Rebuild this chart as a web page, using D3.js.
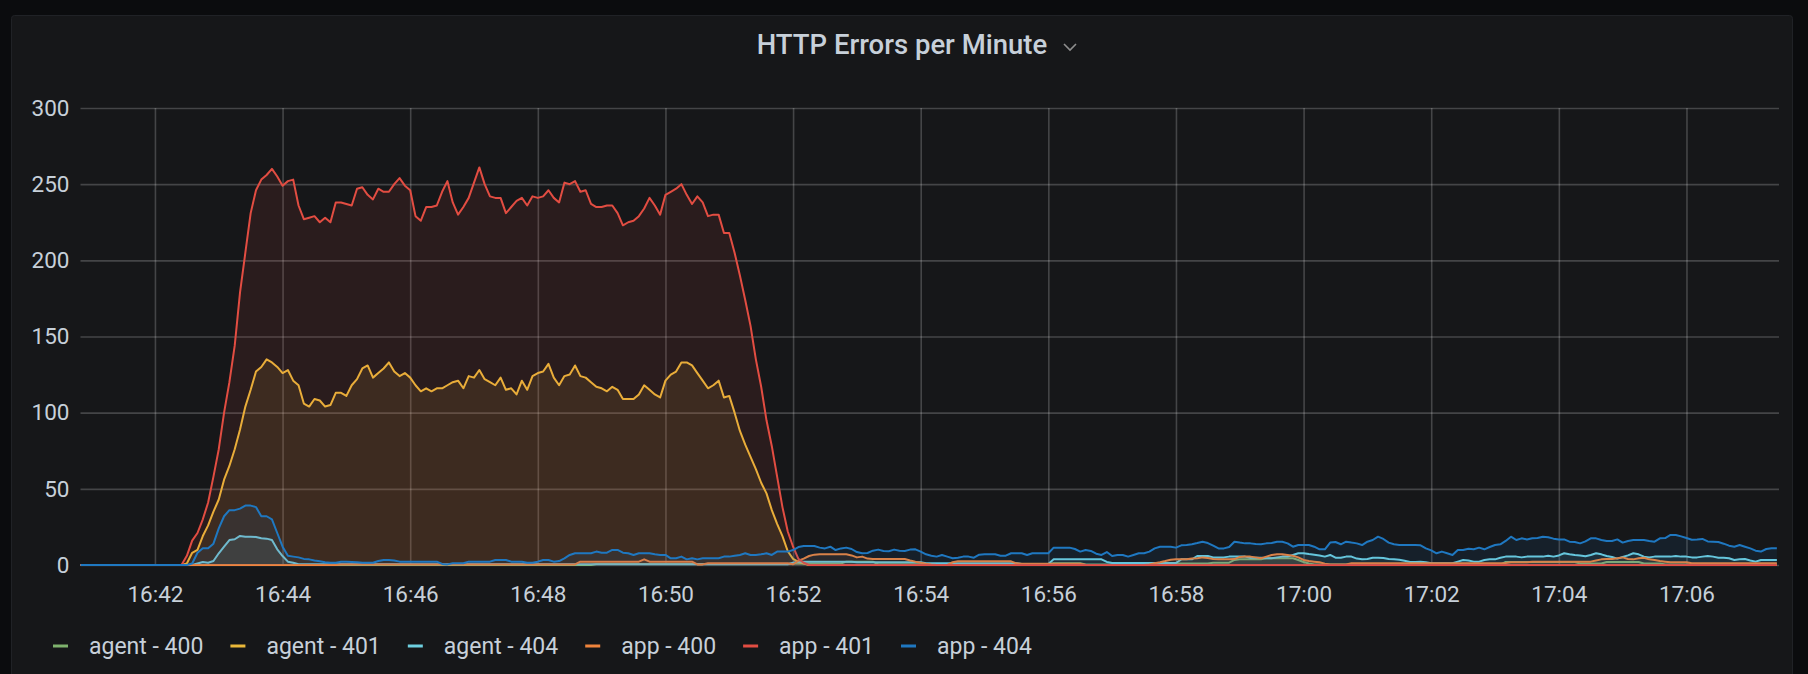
<!DOCTYPE html>
<html>
<head>
<meta charset="utf-8">
<script src="https://cdn.jsdelivr.net/npm/d3@7"></script>
<style>
  html, body { margin: 0; padding: 0; background: #0b0c0e; }
  svg { display: block; }
  text { font-family: Roboto, "Noto Sans", sans-serif; }
</style>
</head>
<body>
<svg id="chart" width="1808" height="674"></svg>
<script>
// ---------- data ----------
const title = "HTTP Errors per Minute";
const seriesNames = ["agent - 400", "agent - 401", "agent - 404", "app - 400", "app - 401", "app - 404"];
const seriesColors = ["#7EB26D", "#EAB839", "#6ED0E0", "#EF843C", "#E24D42", "#1F78C1"];
const startTime = "16:40:50";   // first sample
const stepSeconds = 5;          // sample spacing
const endTime = "17:07:27";     // right edge of the time axis
const xTickLabels = ["16:42","16:44","16:46","16:48","16:50","16:52","16:54","16:56","16:58","17:00","17:02","17:04","17:06"];
const yTickValues = [0, 50, 100, 150, 200, 250, 300];

const agent400 = [
0,0,0,0,0,0,0,0,0,0,0,0,0,0,0,0,0,0,0,0,
0,0,0,0,0,0,0,0,0,0,0,0,0,0,0,0,0,0,0,0,
0,0,0,0,0,0,0,0,0,0,0,0,0,0,0,0,0,0,0,0,
0,0,0,0,0,0,0,0,0,0,0,0,0,0,0,0,0,0,0,0,
0,0,0,0,0,0,0,0,0,0,0,0,0,0,0,0,0,0.7,0.7,0.7,
0.7,0.7,0.7,0.7,0.7,0.7,0.7,0.7,0.7,0.7,0.7,0.7,0.7,0.7,0.7,0.7,0.7,0.7,0.7,0.7,
0.7,0.7,0.7,0.7,0.7,0.7,0.7,0.7,0.7,0.7,0.7,0.7,0.7,0.7,1,1,1,1,1,1,
1,1,1,1,2.2,2.2,2.2,2.2,2.2,2.2,0.5,0.5,0.5,0.5,0.5,0.5,0.5,0.5,0.5,0.5,
0.5,0.5,0.5,0.5,0.5,0.5,0.5,0.5,0.5,0.5,0.5,0.5,0.5,0.5,0.5,0.5,0.5,0.5,0.5,0.5,
0.5,0.5,0.5,1.1,1.1,1.1,1.1,1.1,1.1,0.3,0.3,0.3,0.3,0.3,0.3,0.3,0.3,0.3,0.3,0.3,
0.3,0.3,0.3,0.3,0.3,0.3,1,1,1,1,1,1,1,1.5,1.5,1.5,1.5,3.3,3.7,3.7,
3.7,3.7,3.7,4.4,4.4,4.4,4.4,4.4,4.4,3.3,2,1,0.3,0.3,0.3,0.3,0.3,0.3,0.3,0.3,
0.3,0.3,0.3,0.3,0.3,0.3,0.3,0.3,0.3,0.3,0.3,0.3,0.3,0.3,0.3,0.3,0.3,0.3,0.3,0.3,
0.3,0.3,0.3,0.3,0.3,0.3,0.3,0.3,2,2,2,2,2,2,2,2,2,2,2,2,
2,2,1,1,1,1,1,2,2,2,2,2,2,2,1,1,1,1,0.3,0.3,
0.3,0.3,0.3,0.3,0.3,0.3,0.3,0.3,0.3,0.3,0.3,0.3,0.3,0.3,0.3,0.3,0.3,0.3,0.3,0.3
];

const agent401 = [
0,0,0,0,0,0,0,0,0,0,0,0,0,0,0,0,0,0,0,0,
1,8,10,19,26,35,43,56,65,76,89,104,115,127,130,135,133,130,126,128,
121,118,106,104,109,108,104,105,113,113,111,118,122,129,131,123,126,129,133,127,
124,126,123,118,114,116,114,116,116,118,120,121,116,124,123,128,122,120,118,123,
115,116,112,121,115,124,126,127,132,123,118,124,125,131,124,123,120,117,116,114,
117,115,109,109,109,112,118,115,112,110,121,125,127,133,133,131,126,121,116,118,
121,110,111,100,88,79,71,63,54,47,36,27,19,9,4,2,1,0,0,0,
0,0,0,0,0,0,0,0,0,0,0,0,0,0,0,0,0,0,0,0,
0,0,0,0,0,0,0,0,0,0,0,0,0,0,0,0,0,0,0,0,
0,0,0,0,0,0,0,0,0,0,0,0,0,0,0,0,0,0,0,0,
0,0,0,0,0,0,0,0,0,0,0,0,0,0,0,0,0,0,0,0,
0,0,0,0,0,0,0,0,0,0,0,0,0,0,0,0,0,0,0,0,
0,0,0,0,0,0,0,0,0,0,0,0,0,0,0,0,0,0,0,0,
0,0,0,0,0,0,0,0,0,0,0,0,0,0,0,0,0,0,0,0,
0,0,0,0,0,0,0,0,0,0,0,0,0,0,0,0,0,0,0,0,
0,0,0,0,0,0,0,0,0,0,0,0,0,0,0,0,0,0,0,0
];

const agent404 = [
0,0,0,0,0,0,0,0,0,0,0,0,0,0,0,0,0,0,0,0,
0,0,1,2,1.5,2.6,7.7,12,16.4,16.9,19.1,18.6,18.6,18.4,17.5,17.3,16.4,10.3,5.9,2.2,
1.5,0.5,0.5,0.5,0.5,0.5,0.5,0.5,0.5,0.5,0.5,0.5,0.5,0.5,0.5,0.5,0.5,0.5,0.5,0.5,
0.5,0.5,0.5,0.5,0.5,0.5,0.5,0.5,0.5,0.5,0.5,0.5,0.5,0.5,0.5,0.5,0.5,0.5,0.5,0.5,
0.5,0.5,0.5,0.5,0.5,0.5,0.5,0.5,0.5,0.5,0.5,0.5,0.5,0.5,0.5,0.5,0.5,0.5,0.5,0.5,
0.5,0.5,0.5,0.5,0.5,0.5,0.5,0.5,0.5,0.5,0.5,0.5,0.5,0.5,0.5,0.5,0.5,0.5,0.5,0.5,
0.5,0.5,0.5,0.5,0.5,0.5,0.5,0.5,0.5,0.5,0.5,0.5,0.5,0.5,1.5,2.2,2.2,2.2,2.2,2.2,
2.2,2.2,2.2,2.2,2.2,2.2,1.8,1.8,1.8,1.8,1.8,1.8,1.8,1.8,1.8,1.8,1.8,1.8,1.8,1.1,
1.1,1.1,1.1,1.1,1.1,1.1,1.1,1.1,1.1,1.1,1.1,1.1,1.1,1.1,1.1,1.1,1.1,0.7,0.7,0.7,
0.7,0.7,0.7,3.7,3.7,3.7,3.7,3.7,3.7,3.7,3.7,3.7,3.7,2,1.3,1.3,1.3,1.3,1.3,1.3,
1.3,1.3,1.3,1.3,1.3,1.3,1.3,3.7,3.7,3.7,5.9,5.9,5.9,5,5,5,5.5,5.5,5.5,5.5,
4.8,4.8,4.8,4.4,4.4,5,5.5,5.5,6.6,7.7,7.7,7.2,6.8,6.3,5.5,6.6,4.8,4.8,5.5,5.5,
4.2,3.7,3.9,4.8,4.8,4.6,3.9,3.7,3.5,2.8,2,2,2.2,1.8,1.1,1.1,1.1,1.1,1.1,2.2,
3.3,3,2.2,2.2,3.3,3.7,3.7,4.8,5.5,5.5,5.5,5,5.5,5.5,5.5,5.5,6.1,5.5,6.3,7.7,
7,6.6,6.3,5.7,6.6,7.7,7,5.9,5.3,4.2,5.3,6.3,7.7,7,5.5,5,5.5,5.5,5.5,5.5,
5.9,5.5,5.5,5,5,5.5,5.9,5.5,4.8,4.8,4.4,3.3,3.7,3.9,3,2.2,3.3,3.3,3.3,3.3
];

const app400 = [
0,0,0,0,0,0,0,0,0,0,0,0,0,0,0,0,0,0,0,0,
0,0,0,0,0,0,0,0,0,0,0,0,0,0,0,0,0,0,0,0,
0,0,0,0,0,0,0,0,0,0.4,0.4,0.4,0.4,0.4,0.4,0.4,0.4,0.4,0.4,0.4,
0.4,0.4,0.4,0.4,0.4,0.4,0.4,0.4,0.4,0.4,0.4,0.4,0.4,0.4,0.4,0.4,0.4,0.4,0.4,0.4,
0.4,0.4,0.4,0.4,0.4,0.4,0.4,0.4,0.4,0.4,0.4,0.4,0.4,0.4,2.2,2.2,2.2,2.2,2.2,2.2,
2.2,2.2,2.2,2.2,2.2,2.2,3.7,2.2,2.2,2.2,2.2,2.2,2.2,2.2,2.2,2.2,0.4,0.4,1.1,1.1,
1.1,1.1,1.1,1.1,1.1,1.1,1.1,1.1,1.1,1.1,1.1,1.1,1.1,1.1,0.5,2.8,4.2,5.9,6.8,7,
7,7,7,7,7,6.3,5,5.5,4.2,3.9,3.9,3.9,3.9,3.9,3.9,3.9,3,2.2,1.5,0.9,
0.4,0,0,0,1.8,2.4,2.4,2.4,2.4,2.4,2.4,2.4,2.4,2.4,2.4,2.4,1.1,0.9,0.9,0.9,
0.9,0.9,0.9,0.9,0.9,0.9,0.9,0.9,0.9,0.2,0,0,0,0,0,0,0,0,0,0,
0,0.4,1.1,1.8,2.6,3.5,3.7,3.7,3.7,4.2,4.4,5,4.6,3.9,3.7,3.7,3.7,3.9,5.3,5.5,
5.5,5,4.4,5.5,6.6,7,7,6.6,6.1,5,3.3,2.6,2.2,1.8,0.9,0.4,0.3,0.3,0.3,1.1,
1.1,1.1,1.1,1.1,1.1,1.1,1.1,1.1,1.1,1.1,1.1,1.1,1.1,1.1,1.1,1.1,1.1,1.1,1.1,1.1,
1.1,1.1,1.1,1.1,1.1,1.1,1.1,1.1,1.3,1.8,1.8,1.8,1.8,2.2,2.2,2.2,2.2,2.2,2.2,2.2,
2.2,2.2,2.2,2.2,2.2,3,3.7,3.9,3.9,4.4,5,3.9,3.7,4.4,4.8,3.7,3.3,2.6,2.2,1.8,
1.8,1.8,1.8,1.1,1.1,1.1,1.1,1.1,1.1,1.1,1.1,1.1,1.1,1.1,1.1,1.1,1.1,1.1,1.1,1.1
];

const app401 = [
0,0,0,0,0,0,0,0,0,0,0,0,0,0,0,0,0,0,0,0,
6,16,21,30,41,58,76,100,120,144,179,205,231,246,253,256,260,255,249,252,
253,236,227,228,229,225,228,225,238,238,237,236,247,248,243,240,247,245,245,250,
254,249,246,229,226,235,235,236,245,252,238,230,235,241,251,261,250,242,241,241,
231,235,239,241,236,242,241,242,246,241,238,251,250,252,245,246,237,235,235,236,
236,231,223,225,226,229,234,241,236,230,243,245,247,250,243,237,242,238,229,230,
230,218,218,205,190,174,157,135,117,95,78,58,38,22,12,4,1.5,0,0,0,
0,0,0,0,0,0,0,0,0,0,0,0,0,0,0,0,0,0,0,0,
0,0,0,0,0,0,0,0,0,0,0,0,0,0,0,0,0,0,0,0,
0,0,0,0,0,0,0,0,0,0,0,0,0,0,0,0,0,0,0,0,
0,0,0,0,0,0,0,0,0,0,0,0,0,0,0,0,0,0,0,0,
0,0,0,0,0,0,0,0,0,0,0,0,0,0,0,0,0,0,0,0,
0,0,0,0,0,0,0,0,0,0,0,0,0,0,0,0,0,0,0,0,
0,0,0,0,0,0,0,0,0,0,0,0,0,0,0,0,0,0,0,0,
0,0,0,0,0,0,0,0,0,0,0,0,0,0,0,0,0,0,0,0,
0,0,0,0,0,0,0,0,0,0,0,0,0,0,0,0,0,0,0,0
];

const app404 = [
0,0,0,0,0,0,0,0,0,0,0,0,0,0,0,0,0,0,0,0,
0,1,8,11,11,14,24,32,36,36,37,39,39,38,32,32,30,21,12,6,
5.5,5,4,3.7,3,2.4,1.8,1.5,1.5,2.2,2.2,2,1.8,1.5,1.5,1.5,2.6,3.3,3.3,3,
2.2,2.2,2.2,2.2,2.2,2.2,2.2,2.2,0.7,0.4,1.1,1.1,1.1,2.2,2.2,2.2,2.2,2.2,3.3,3.3,
3.3,2.2,2.2,2.2,1.5,1.5,2.2,3.3,3.3,2.2,2.6,4.4,6.6,7.7,7.7,7.7,7.7,8.8,8.1,8.1,
9.9,9.9,8.1,7.7,6.6,7.7,7.7,7.7,7,6.6,6.6,4.4,4.4,5.5,3.7,4.4,3.7,4.4,4.4,4.4,
4.4,5.5,5.5,6.1,6.6,7.7,6.6,6.6,7,7.7,6.6,8.8,8.8,8.8,9.8,11.8,12.5,12.5,12.5,11.4,
10.9,12,9.8,10.9,11.4,10.5,8.5,7.7,7.9,9.4,10.1,9.2,9,10.1,9.4,9.2,10.1,10.3,8.8,7,
6.1,5.5,6.6,5.5,4.4,4.8,5.5,5.5,4.8,6.8,7,7,7,6.1,6.1,7.7,7.7,7.7,6.6,7.7,
7.7,7.7,7.7,11.4,11.4,11.4,11.4,10.5,8.8,9.8,9.2,7.4,6.6,8.5,5.9,6.6,6.6,5.5,6.6,7.7,
7.7,8.8,10.9,12,12,12,11.4,12.9,13.1,13.6,14.4,15.3,14.4,12.7,10.9,10.9,11.8,15.3,14.7,14.2,
14.2,13.8,13.6,14.2,14.4,15.3,15.3,14.2,12,13.1,13.1,13.1,12,10.3,10.3,14.7,15.1,13.6,15.3,14.7,
14.2,13.1,15.3,16.4,18.6,17.1,14.7,13.6,13.1,13.1,13.1,13.1,12.9,10.9,9.6,7.7,8.8,7.7,6.6,9.8,
9.8,10.7,10.3,11.4,10.3,11.8,13.1,13.6,15.8,18.6,16.4,17.5,16.8,17.5,17.7,18.6,18.2,17.3,16.8,16.8,
15.3,15.1,14.2,15.5,17.5,17.5,16.4,15.8,15.8,16.8,14.7,15.8,16.4,16.4,16.4,15.8,15.3,17.5,17.7,19.7,
19.7,18.8,17.7,16.6,16.8,17.1,15.5,15.3,15.1,14,12.7,12,13.1,12,10.9,9.4,8.8,10.5,11,11
];

const seriesValues = [agent400, agent401, agent404, app400, app401, app404];

// ---------- layout ----------
const W = 1808, H = 674;
const plot = { left: 80.5, right: 1779, top: 108, bottom: 565 };
const tickFont = 22.5;
const legendFont = 23;

const svg = d3.select("#chart");
const parseT = d3.timeParse("%H:%M:%S");
const parseM = d3.timeParse("%H:%M");
const t0 = parseT(startTime);
const tEnd = parseT(endTime);

const x = d3.scaleTime().domain([t0, tEnd]).range([plot.left, plot.right]);
const y = d3.scaleLinear().domain([0, 300]).range([plot.bottom, plot.top]);

// panel
svg.append("rect").attr("x", 0).attr("y", 0).attr("width", W).attr("height", H).attr("fill", "#0b0c0e");
svg.append("rect").attr("x", 11.5).attr("y", 15.5).attr("width", 1781).attr("height", 700)
  .attr("rx", 3).attr("fill", "#161719").attr("stroke", "#202226").attr("stroke-width", 1);

// title
svg.append("text")
  .attr("x", 902).attr("y", 54)
  .attr("text-anchor", "middle")
  .attr("font-size", 27.5).attr("font-weight", 500)
  .attr("fill", "#c7d0d9")
  .text(title);
svg.append("path").attr("d", "M1064,44 L1070,50 L1076,44")
  .attr("fill", "none").attr("stroke", "#8e8e8e").attr("stroke-width", 1.6);

// grid + axes
const gridColor = "rgba(255,255,255,0.2)";
const yAxis = d3.axisLeft(y).tickValues(yTickValues).tickSize(-(plot.right - plot.left)).tickPadding(11);
const gy = svg.append("g").attr("transform", `translate(${plot.left},0)`).call(yAxis);
gy.select(".domain").remove();
gy.selectAll("line").attr("stroke", gridColor).attr("stroke-width", 1.6);
gy.selectAll("text").attr("fill", "#c7d0d9").attr("font-size", tickFont).attr("font-family", "Roboto, sans-serif");

const xTicks = xTickLabels.map(parseM);
const xAxis = d3.axisBottom(x).tickValues(xTicks).tickFormat(d3.timeFormat("%H:%M"))
  .tickSize(-(plot.bottom - plot.top)).tickPadding(21);
const gx = svg.append("g").attr("transform", `translate(0,${plot.bottom})`).call(xAxis);
gx.select(".domain").remove();
gx.selectAll("line").attr("stroke", gridColor).attr("stroke-width", 1.6);
gx.selectAll("text").attr("fill", "#c7d0d9").attr("font-size", tickFont).attr("font-family", "Roboto, sans-serif");

// series
const timeAt = i => d3.timeSecond.offset(t0, i * stepSeconds);
const area = d3.area().x((d, i) => x(timeAt(i))).y0(y(0)).y1(d => y(d));
const line = d3.line().x((d, i) => x(timeAt(i))).y(d => y(d));

const gs = svg.append("g");
seriesValues.forEach((vals, k) => {
  gs.append("path").attr("d", area(vals)).attr("fill", seriesColors[k]).attr("fill-opacity", 0.1);
  gs.append("path").attr("d", line(vals)).attr("fill", "none")
    .attr("stroke", seriesColors[k]).attr("stroke-width", 2).attr("stroke-linejoin", "round");
});

// legend
const lg = svg.append("g");
let lx = 53;
seriesNames.forEach((name, k) => {
  lg.append("rect").attr("x", lx).attr("y", 644.5).attr("width", 15).attr("height", 3)
    .attr("fill", seriesColors[k]);
  const t = lg.append("text").attr("x", lx + 36).attr("y", 654)
    .attr("font-size", legendFont).attr("fill", "#c7d0d9").text(name);
  const w = t.node().getComputedTextLength();
  lx = lx + 36 + w + 27;
});
</script>
</body>
</html>
